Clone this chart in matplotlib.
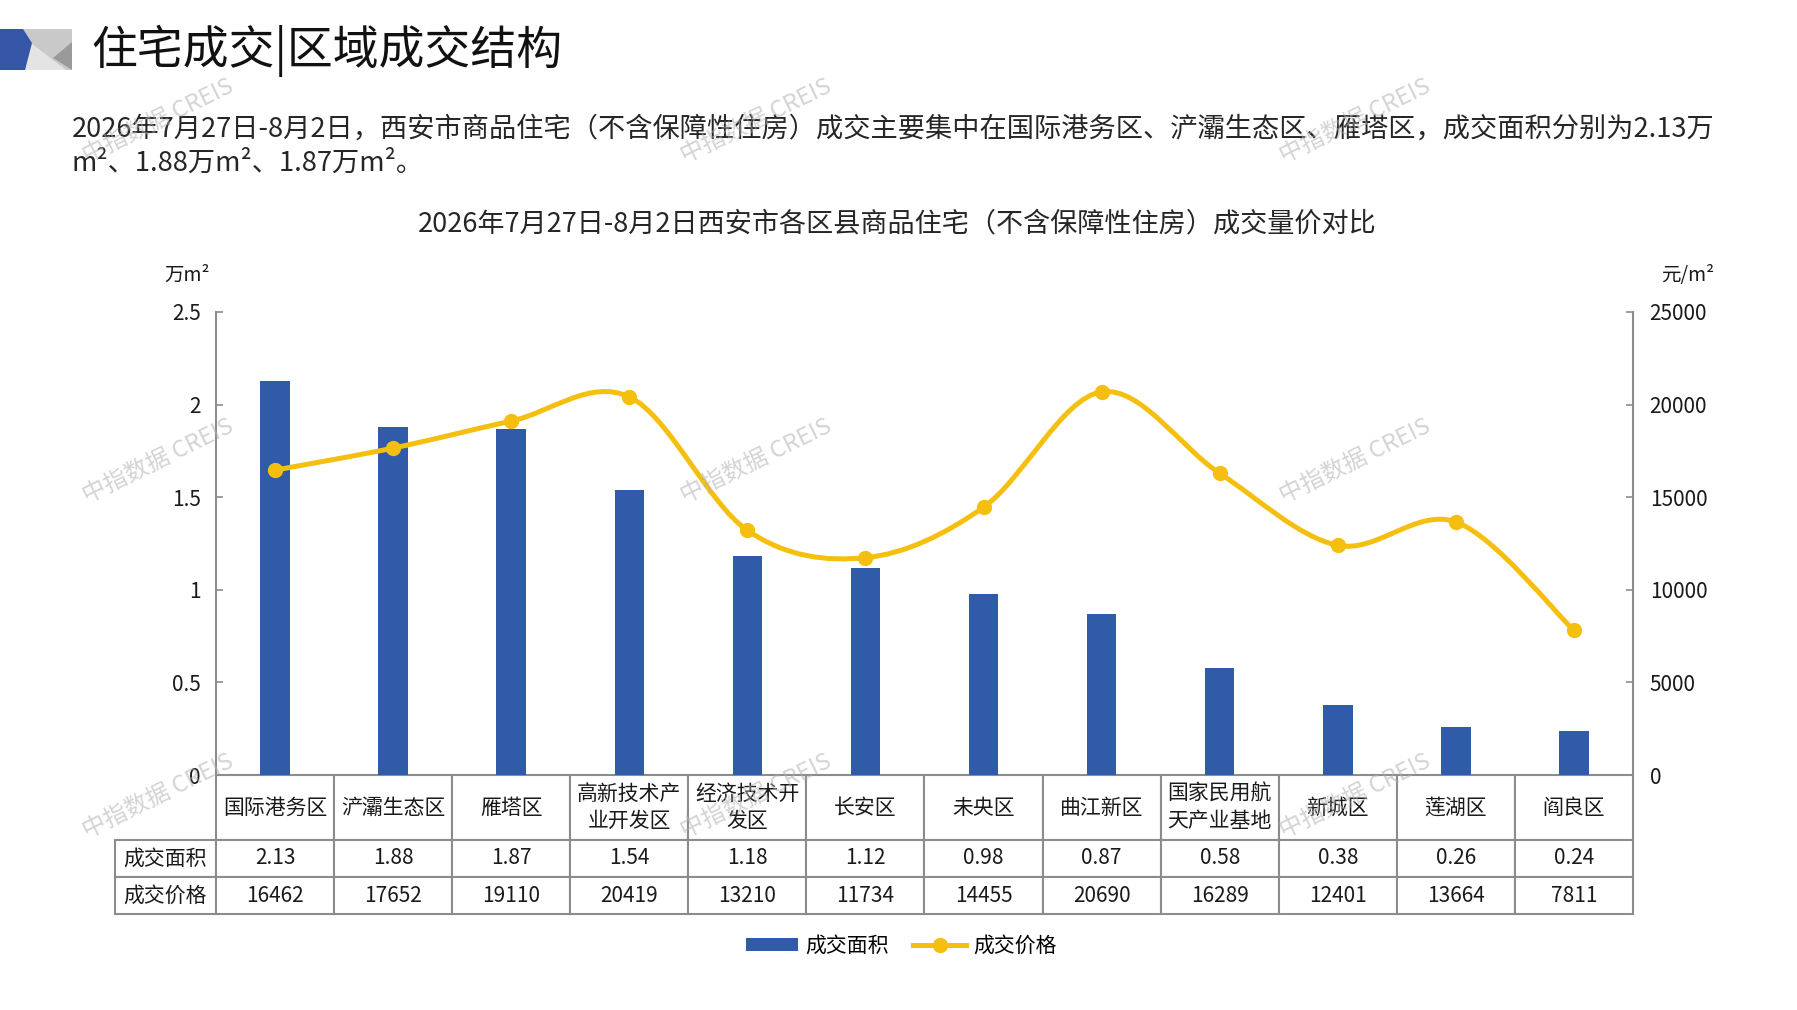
import numpy as np
import matplotlib
matplotlib.use('Agg')
import matplotlib.pyplot as plt
from matplotlib.path import Path
from matplotlib.patches import PathPatch, Polygon, Patch
from matplotlib.lines import Line2D

plt.rcParams['font.family'] = ['Noto Sans CJK SC', 'DejaVu Sans']

#Data
districts = ['国际港务区', '浐灞生态区', '雁塔区', '高新技术产业开发区', '经济技术开发区', '长安区',
             '未央区', '曲江新区', '国家民用航天产业基地', '新城区', '莲湖区', '阎良区']
area = [2.13, 1.88, 1.87, 1.54, 1.18, 1.12, 0.98, 0.87, 0.58, 0.38, 0.26, 0.24]
price = [16462, 17652, 19110, 20419, 13210, 11734, 14455, 20690, 16289, 12401, 13664, 7811]
area_ticks = [0, 0.5, 1, 1.5, 2, 2.5]
area_tick_labels = ['0', '0.5', '1', '1.5', '2', '2.5']
price_ticks = [0, 5000, 10000, 15000, 20000, 25000]
row_names = ['成交面积', '成交价格']

page_title = '住宅成交|区域成交结构'
summary = ('2026年7月27日-8月2日，西安市商品住宅（不含保障性住房）成交主要集中在国际港务区、浐灞生态区、雁塔区，成交面积分别为2.13万\n'
           'm²、1.88万m²、1.87万m²。')
chart_title = '2026年7月27日-8月2日西安市各区县商品住宅（不含保障性住房）成交量价对比'

blue = '#2F5BA8'
gold = '#F5BF0F'
grid_gray = '#8C8C8C'

W, H = 1797, 1010
# plot frame in pixels
AX_L, AX_R, AX_T, AX_B = 216, 1633, 312, 775
TBL_L = 115
HEAD_ROW_H, ROW_H = 65, 37


def fx(px):
    return px / W


def fy(py):
    return 1 - py / H


def wrap(name, n=5):
    if len(name) <= n:
        return name
    return name[:n] + '\n' + name[n:]


def smooth_path(xs, ys):
    # excel style smoothed line (bezier through the points)
    pts = np.column_stack([xs, ys]).astype(float)
    n = len(pts)
    verts = [pts[0]]
    codes = [Path.MOVETO]
    for i in range(n - 1):
        p0 = pts[i - 1] if i > 0 else pts[i]
        p1 = pts[i]
        p2 = pts[i + 1]
        p3 = pts[i + 2] if i + 2 < n else pts[i + 1]
        verts += [p1 + (p2 - p0) / 6, p2 - (p3 - p1) / 6, p2]
        codes += [Path.CURVE4] * 3
    return Path(verts, codes)


fig = plt.figure(figsize=(W / 100, H / 100), dpi=100)

#Header logo
logo = [
    ([(23, 29), (72, 29), (72, 70), (23, 70)], '#C9C9C9'),
    ([(31, 43), (25, 70), (66, 70)], '#E4E4E4'),
    ([(72, 42), (53, 58), (72, 70)], '#9A9A9A'),
    ([(0, 29), (23, 29), (32, 43), (25, 70), (0, 70)], '#3556A6'),
]
for pts, col in logo:
    fig.add_artist(Polygon([(fx(x), fy(y)) for x, y in pts], closed=True, facecolor=col,
                           edgecolor='none', transform=fig.transFigure))

fig.text(fx(91), fy(51), page_title, fontsize=33, va='center', ha='left', color='#111111')
fig.text(fx(72), fy(146), summary, fontsize=19.6, va='center', ha='left', color='#262626',
         linespacing=1.35)
fig.text(fx(897), fy(224), chart_title, fontsize=19.5, va='center', ha='center', color='#262626')

#Chart
x = np.arange(len(districts))
ax = fig.add_axes([fx(AX_L), fy(AX_B), fx(AX_R) - fx(AX_L), fy(AX_T) - fy(AX_B)])
ax.bar(x, area, width=0.25, color=blue, zorder=2)
ax.set_xlim(-0.5, len(districts) - 0.5)
ax.set_ylim(0, 2.5)
ax.set_xticks([])
ax.set_yticks(area_ticks)
ax.set_yticklabels(area_tick_labels)
ax.tick_params(axis='y', direction='in', length=5, width=1.2, color=grid_gray, pad=11,
               labelsize=15, labelcolor='#1a1a1a')

ax2 = ax.twinx()
ax2.set_ylim(0, 25000)
ax2.set_yticks(price_ticks)
ax2.tick_params(axis='y', direction='in', length=5, width=1.2, color=grid_gray, pad=12,
                labelsize=15, labelcolor='#1a1a1a')
ax2.add_patch(PathPatch(smooth_path(x, price), facecolor='none', edgecolor=gold, lw=3.6,
                        capstyle='round', zorder=3))
ax2.plot(x, price, 'o', color=gold, ms=10, zorder=4)

for a in (ax, ax2):
    for side in ('top', 'bottom'):
        a.spines[side].set_visible(False)
ax.spines['right'].set_visible(False)
ax2.spines['left'].set_visible(False)
ax.spines['left'].set_color(grid_gray)
ax.spines['left'].set_linewidth(1.5)
ax2.spines['right'].set_color(grid_gray)
ax2.spines['right'].set_linewidth(1.5)

fig.text(fx(164), fy(275), '万m²', fontsize=14, va='center', ha='left', color='#1a1a1a')
fig.text(fx(1714), fy(275), '元/m²', fontsize=14, va='center', ha='right', color='#1a1a1a')

#Data table under the chart
cell_text = [[f'{v:.2f}' for v in area], [str(v) for v in price]]
ax_w_px = AX_R - AX_L
ax_h_px = AX_B - AX_T
tbl = ax.table(cellText=cell_text, rowLabels=row_names, colLabels=[wrap(d) for d in districts],
               cellLoc='center', rowLoc='center', loc='bottom')
tbl._autoColumns = []  # keep the row label column at a fixed width
tbl.auto_set_font_size(False)
tbl.set_fontsize(15)
for (r, c), cell in tbl.get_celld().items():
    cell.set_edgecolor(grid_gray)
    cell.set_linewidth(1.5)
    cell.set_height((HEAD_ROW_H if r == 0 else ROW_H) / ax_h_px)
    cell.set_width((AX_L - TBL_L) / ax_w_px if c == -1 else 1 / len(districts))
    cell.get_text().set_color('#1a1a1a')
    cell.get_text().set_linespacing(1.3)

#Legend
handles = [Patch(facecolor=blue, edgecolor='none'),
           Line2D([], [], color=gold, lw=3.6, marker='o', ms=10)]
fig.legend(handles, row_names, loc='center', bbox_to_anchor=(fx(901), fy(946)), ncol=2,
           frameon=False, fontsize=15, handlelength=2.5, handleheight=0.55, columnspacing=1.2,
           handletextpad=0.35)

#Watermarks
for wx in (158, 756, 1355):
    for wy in (121, 461, 796):
        fig.text(fx(wx), fy(wy), '中指数据 CREIS', fontsize=17, rotation=26, ha='center', va='center',
                 color='#B0B0B0', alpha=0.55, zorder=10,
                 family=['Noto Sans CJK SC', 'DejaVu Sans'])

fig.savefig('out.png', dpi=100)
